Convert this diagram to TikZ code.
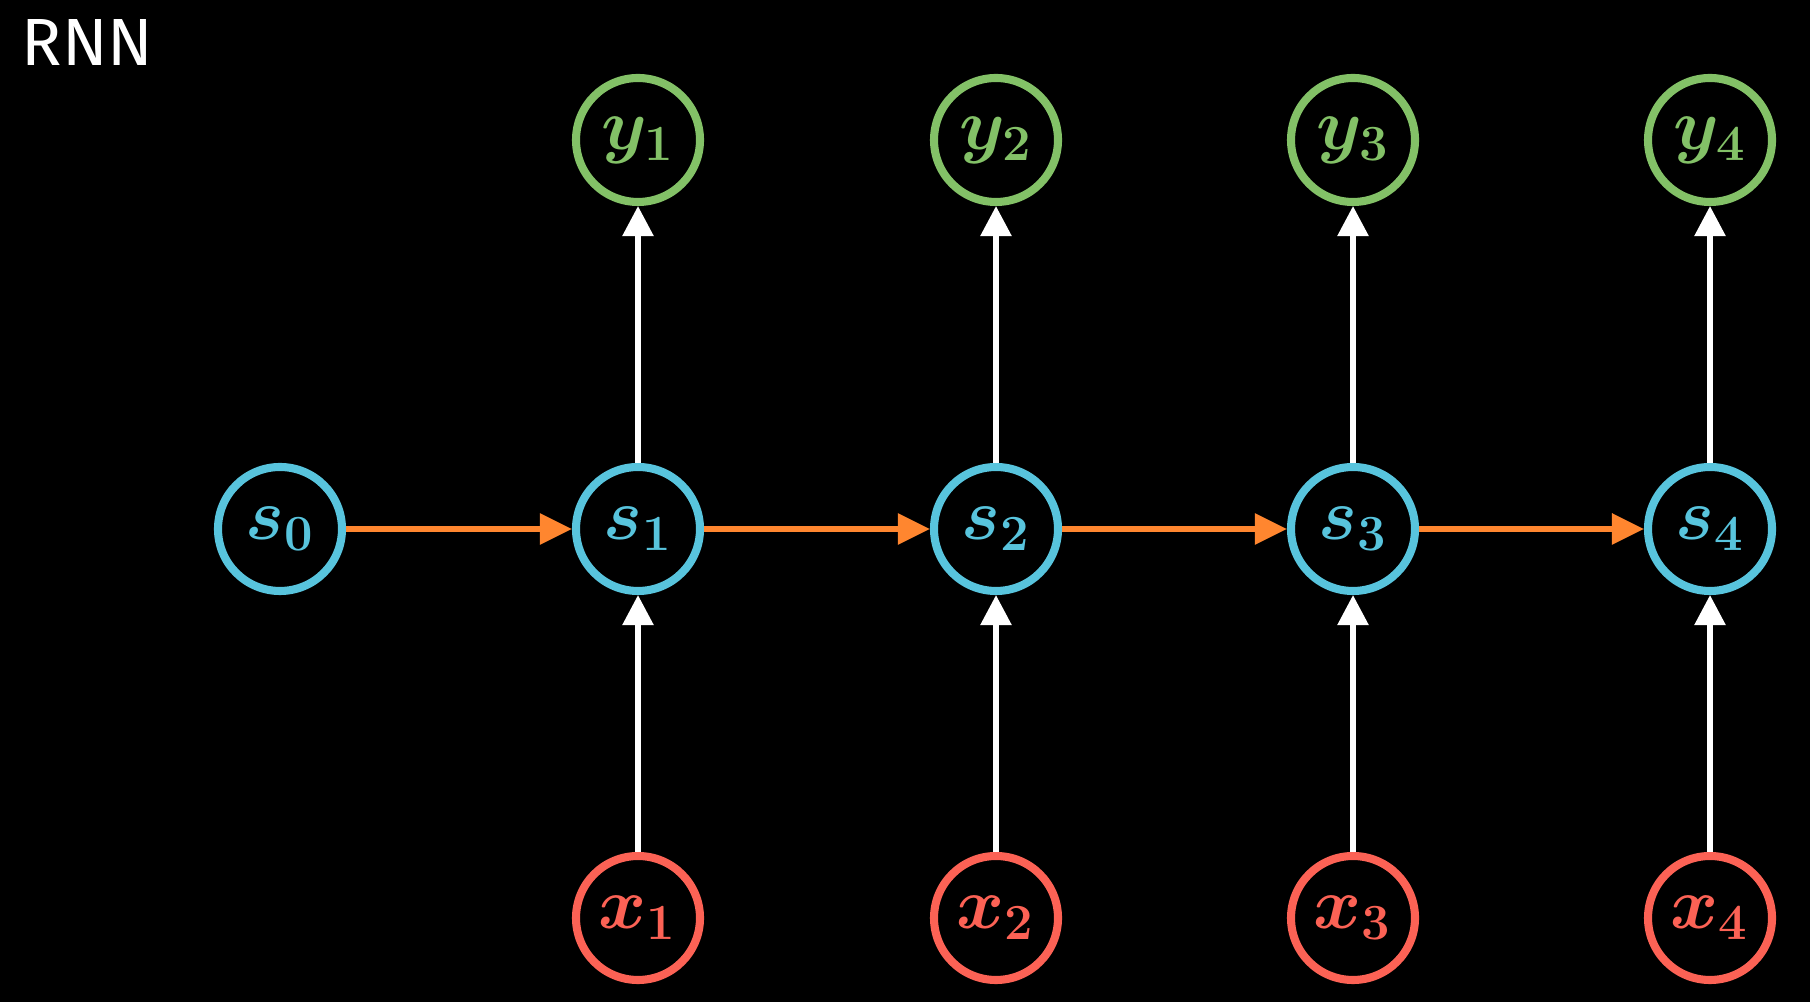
\documentclass[tikz,border=0pt]{standalone}
\usepackage{tikz}
\usetikzlibrary{arrows.meta}
\usepackage{amsmath,amssymb,bm}
\usepackage{fontspec}
\newfontfamily\titlefont{Fira Sans}
\definecolor{stateblue}{HTML}{58C4DD}
\definecolor{outgreen}{HTML}{83C167}
\definecolor{inred}{HTML}{FC6255}
\definecolor{linkorange}{HTML}{FF862F}

\begin{document}
\begin{tikzpicture}[
  unit/.style={shape=circle,draw,line width=2.3pt,minimum size=1.24cm,inner sep=0pt,font=\fontsize{20}{24}\selectfont},
  state/.style={unit,draw=stateblue,text=stateblue},
  outunit/.style={unit,draw=outgreen,text=outgreen},
  inunit/.style={unit,draw=inred,text=inred},
  flow/.style={white,line width=1.6pt,-{Triangle[length=0.3cm,width=0.3cm]}},
  recur/.style={linkorange,line width=1.7pt,-{Triangle[length=0.32cm,width=0.3cm]}}]
\fill[black] (0,0) rectangle (18.10,10.02);
\useasboundingbox (0,0) rectangle (18.10,10.02);
\node[anchor=north west,inner sep=0pt,text=white,font=\titlefont\fontsize{19}{22}\selectfont] (title) at (0.21,9.83) {RNN};
\node[state] (s0) at (2.80,4.73) {$\bm{s_0}$};
\node[state] (s1) at (6.38,4.73) {$\bm{s_1}$};
\node[state] (s2) at (9.96,4.73) {$\bm{s_2}$};
\node[state] (s3) at (13.53,4.73) {$\bm{s_3}$};
\node[state] (s4) at (17.10,4.73) {$\bm{s_4}$};
\node[outunit] (y1) at (6.38,8.62) {$\bm{y_1}$};
\node[outunit] (y2) at (9.96,8.62) {$\bm{y_2}$};
\node[outunit] (y3) at (13.53,8.62) {$\bm{y_3}$};
\node[outunit] (y4) at (17.10,8.62) {$\bm{y_4}$};
\node[inunit] (x1) at (6.38,0.84) {$\bm{x_1}$};
\node[inunit] (x2) at (9.96,0.84) {$\bm{x_2}$};
\node[inunit] (x3) at (13.53,0.84) {$\bm{x_3}$};
\node[inunit] (x4) at (17.10,0.84) {$\bm{x_4}$};
\draw[recur] (s0) -- (s1);
\draw[recur] (s1) -- (s2);
\draw[recur] (s2) -- (s3);
\draw[recur] (s3) -- (s4);
\draw[flow] (s1) -- (y1);
\draw[flow] (s2) -- (y2);
\draw[flow] (s3) -- (y3);
\draw[flow] (s4) -- (y4);
\draw[flow] (x1) -- (s1);
\draw[flow] (x2) -- (s2);
\draw[flow] (x3) -- (s3);
\draw[flow] (x4) -- (s4);
\end{tikzpicture}
\end{document}
